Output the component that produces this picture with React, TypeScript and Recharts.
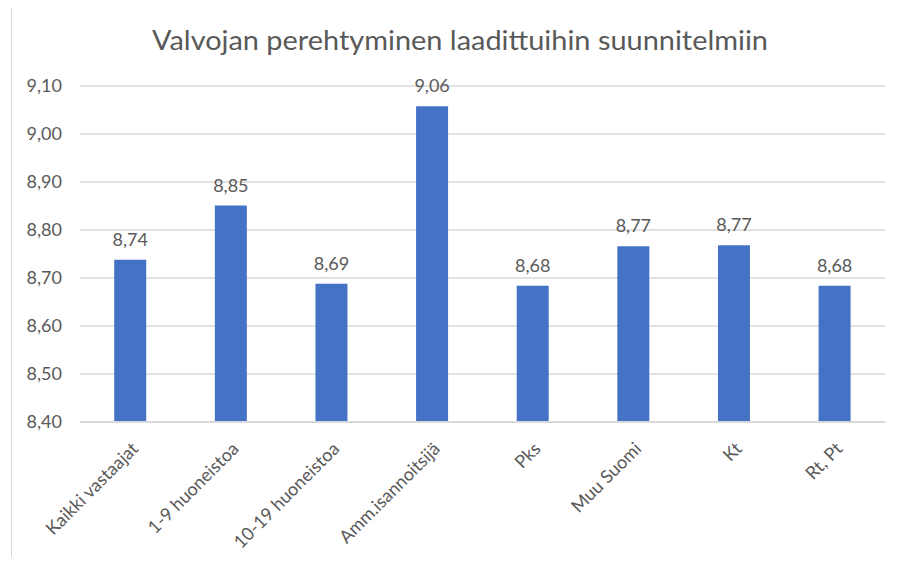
import { BarChart, Bar, XAxis, YAxis, CartesianGrid, LabelList } from 'recharts'

const categories = [
  'Kaikki vastaajat',
  '1-9 huoneistoa',
  '10-19 huoneistoa',
  'Amm.isannoitsijä',
  'Pks',
  'Muu Suomi',
  'Kt',
  'Rt, Pt',
]
const values = [8.738, 8.851, 8.688, 9.058, 8.684, 8.766, 8.768, 8.684]
const yTicks = [8.4, 8.5, 8.6, 8.7, 8.8, 8.9, 9.0, 9.1]
const title = 'Valvojan perehtyminen laadittuihin suunnitelmiin'

const data = categories.map((name, i) => ({ name, value: values[i] }))

const FONT = 'Lato, "Noto Sans", sans-serif'
const TEXT = '#595959'

// comma as decimal separator, Finnish style
const fi = (v: number) => v.toFixed(2).replace('.', ',')

function AngledTick(props: any) {
  const { x, y, payload } = props
  return (
    <g transform={`translate(${x + 9},${y + 20})`}>
      <text
        textAnchor="end"
        transform="rotate(-45)"
        fill={TEXT}
        fontSize={18}
        fontFamily={FONT}
      >
        {payload.value}
      </text>
    </g>
  )
}

export default function App() {
  return (
    <div style={{ position: 'relative', width: 900, height: 565, margin: -8, overflow: 'hidden', background: '#fff' }}>
      {/* chart frame */}
      <div
        style={{
          position: 'absolute',
          left: 11,
          top: 4,
          width: 900,
          height: 559,
          border: '1.5px solid #d9d9d9',
        }}
      />
      <svg style={{ position: 'absolute', left: 0, top: 0 }} width={900} height={70}>
        <text
          x={460}
          y={50}
          textAnchor="middle"
          fill={TEXT}
          fontSize={27}
          fontFamily={FONT}
          textLength={616}
          lengthAdjust="spacingAndGlyphs"
        >
          {title}
        </text>
      </svg>
      <div style={{ position: 'absolute', left: 0, top: 0 }}>
        <BarChart
          width={900}
          height={565}
          data={data}
          margin={{ top: 86, right: 15, bottom: 0, left: 0 }}
          barCategoryGap="34%"
        >
          <CartesianGrid vertical={false} stroke="#d9d9d9" strokeWidth={1.3} />
          <XAxis
            dataKey="name"
            height={143}
            interval={0}
            tickLine={false}
            axisLine={{ stroke: '#d9d9d9', strokeWidth: 2 }}
            tick={<AngledTick />}
          />
          <YAxis
            width={80}
            domain={[8.4, 9.1]}
            ticks={yTicks}
            allowDataOverflow
            tickFormatter={fi}
            axisLine={false}
            tickLine={false}
            tickSize={0}
            tickMargin={18}
            tick={{ fill: TEXT, fontSize: 18, fontFamily: FONT }}
          />
          <Bar dataKey="value" fill="#4472c4" isAnimationActive={false}>
            <LabelList
              dataKey="value"
              position="top"
              offset={14}
              formatter={(v: any) => fi(Number(v))}
              fill={TEXT}
              fontSize={18}
              fontFamily={FONT}
            />
          </Bar>
        </BarChart>
      </div>
    </div>
  )
}
